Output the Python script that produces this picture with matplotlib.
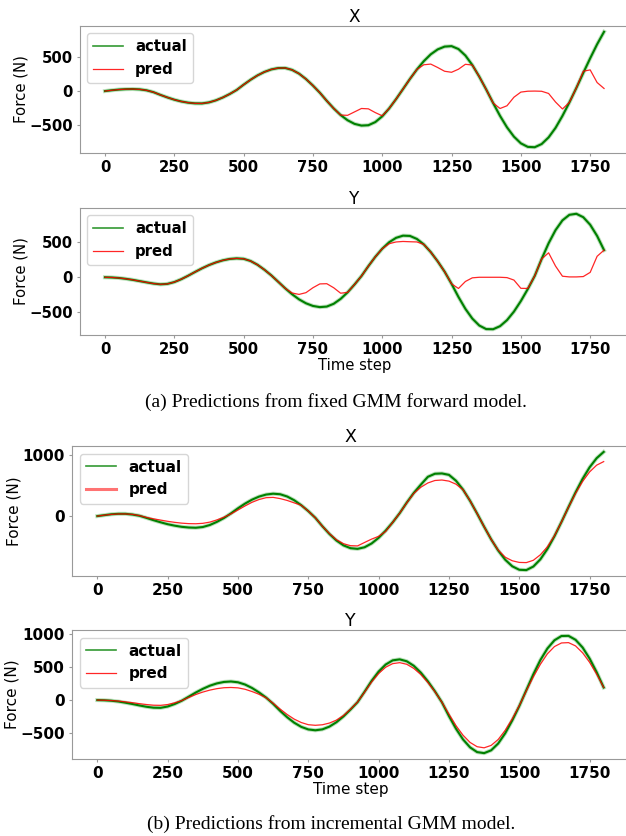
import numpy as np
import matplotlib
matplotlib.use('Agg')
import matplotlib.pyplot as plt

# time axis, one sample every 25 steps
steps = np.arange(0, 1801, 25)

# fixed GMM forward model, X force
fx_actual = [0, 12, 22, 28, 30, 25, 11, -16, -56, -93, -126, -152, -170, -180, -181, -166,
             -136, -94, -43, 16, 93, 165, 229, 280, 317, 337, 338, 310, 255, 176, 81, -24,
             -143, -254, -351, -427, -480, -505, -500, -454, -370, -254, -117, 30, 178, 316,
             438, 538, 610, 651, 658, 615, 520, 381, 211, 23, -175, -364, -531, -667, -765,
             -817, -822, -775, -678, -539, -363, -166, 45, 265, 480, 685, 868]
fx_pred = [0, 12, 22, 28, 30, 25, 11, -16, -56, -93, -126, -152, -170, -180, -181, -166,
           -136, -94, -43, 16, 93, 165, 229, 280, 317, 337, 338, 310, 255, 176, 81, -24,
           -143, -254, -351, -355, -305, -255, -260, -315, -362, -254, -117, 30, 178, 316,
           385, 395, 345, 290, 275, 320, 392, 381, 211, 23, -175, -255, -215, -90, -15,
           -2, 0, -3, -35, -160, -262, -166, 45, 290, 310, 125, 38]

# fixed GMM forward model, Y force
fy_actual = [0, -3, -10, -22, -37, -55, -73, -90, -101, -95, -69, -28, 22, 76, 128, 174,
             212, 242, 262, 270, 264, 233, 179, 108, 27, -65, -158, -243, -316, -372, -410,
             -427, -419, -379, -309, -216, -104, 17, 159, 292, 408, 501, 564, 595, 591, 548,
             470, 360, 228, 80, -94, -282, -452, -591, -690, -741, -743, -699, -613, -491,
             -340, -168, 20, 262, 486, 674, 814, 893, 908, 859, 751, 591, 388]
fy_pred = [0, -3, -10, -22, -37, -55, -73, -90, -101, -95, -69, -28, 22, 76, 128, 174,
           212, 242, 262, 270, 264, 233, 179, 108, 27, -65, -158, -225, -245, -220, -150,
           -95, -92, -150, -228, -216, -104, 17, 159, 292, 408, 480, 505, 512, 508, 505,
           470, 360, 228, 80, -94, -160, -60, -8, 0, 0, 0, 0, -5, -40,
           -158, -160, 20, 262, 350, 160, 15, 5, 5, 10, 70, 300, 388]

# incremental GMM model, X force
ix_actual = [0, 15, 30, 37, 37, 25, 5, -30, -67, -101, -132, -156, -175, -186, -190, -178,
             -145, -94, -32, 44, 127, 203, 268, 318, 351, 365, 356, 319, 258, 177, 81, -28,
             -165, -291, -398, -477, -523, -534, -508, -446, -354, -237, -102, 49, 220, 378,
             512, 640, 690, 695, 672, 576, 432, 249, 42, -173, -379, -561, -711, -818, -875,
             -880, -822, -704, -535, -328, -95, 148, 386, 606, 795, 944, 1046]
ix_pred = [0, 15, 28, 35, 35, 28, 8, -22, -45, -65, -85, -102, -115, -123, -125, -118,
           -98, -62, -18, 35, 100, 165, 225, 270, 300, 305, 285, 255, 215, 177, 81, -28,
           -165, -285, -385, -450, -482, -486, -430, -375, -330, -250, -102, 49, 215, 370,
           470, 540, 580, 588, 570, 520, 430, 249, 42, -173, -379, -555, -670, -728, -755,
           -758, -720, -630, -500, -320, -95, 145, 370, 565, 720, 830, 888]

# incremental GMM model, Y force
iy_actual = [0, -3, -10, -22, -40, -60, -82, -102, -116, -118, -98, -60, -10, 52, 115, 171,
             219, 254, 276, 283, 271, 237, 184, 116, 38, -57, -165, -262, -345, -408, -447,
             -460, -446, -404, -337, -249, -144, -32, 127, 292, 434, 541, 605, 620, 591, 522,
             418, 286, 134, -34, -244, -436, -599, -720, -792, -808, -765, -661, -505, -310,
             -91, 151, 393, 610, 786, 911, 976, 978, 918, 801, 632, 425, 192]
iy_pred = [0, -2, -7, -15, -27, -40, -55, -68, -78, -80, -68, -42, -8, 40, 85, 122,
           152, 174, 188, 192, 186, 165, 130, 88, 35, -48, -138, -220, -290, -342, -375,
           -384, -376, -350, -305, -235, -138, -30, 120, 275, 405, 500, 555, 570, 545, 482,
           390, 268, 128, -34, -215, -390, -535, -645, -710, -727, -690, -600, -460, -285,
           -85, 140, 355, 545, 705, 815, 870, 875, 825, 720, 575, 395, 192]

xticks = [0, 250, 500, 750, 1000, 1250, 1500, 1750]

W, H = 626, 836
fig = plt.figure(figsize=(W / 100, H / 100), dpi=100)


def panel(box, title, actual, pred, yticks, xlabel=False, thick_pred_handle=False, fs=11):
    l, t, r, b = box
    ax = fig.add_axes([l / W, 1 - b / H, (r - l) / W, (b - t) / H])
    ax.plot(steps, actual, color='#40a840', alpha=0.35, lw=2.9)
    ax.plot(steps, actual, color='g', lw=1.5, label='actual')
    ax.plot(steps, pred, color='r', lw=0.9, alpha=0.85, label='pred')
    ax.set_title(title, fontsize=fs + 1.5, pad=2)
    ax.set_xticks(xticks)
    ax.set_yticks(yticks)
    ax.tick_params(length=2.5, pad=2.5, color='0.6', labelsize=fs)
    for lab in ax.get_xticklabels() + ax.get_yticklabels():
        lab.set_fontweight('bold')
    for s in ax.spines.values():
        s.set_color('0.6')
    ax.set_ylabel('Force (N)', fontsize=fs, labelpad=1)
    if xlabel:
        ax.set_xlabel('Time step', fontsize=fs, labelpad=1)
    leg = ax.legend(loc='upper left', prop={'weight': 'bold', 'size': fs})
    leg.get_lines()[0].set_linewidth(1.2)
    leg.get_lines()[0].set_alpha(0.8)
    if thick_pred_handle:
        leg.get_lines()[1].set_linewidth(2.2)
        leg.get_lines()[1].set_alpha(0.55)
    return ax


panel((80, 26, 629, 153), 'X', fx_actual, fx_pred, [-500, 0, 500], fs=10.7)
panel((80, 208, 629, 335), 'Y', fy_actual, fy_pred, [-500, 0, 500], xlabel=True, fs=10.7)
panel((72, 446, 629, 576), 'X', ix_actual, ix_pred, [0, 1000], thick_pred_handle=True)
panel((72, 630, 629, 759), 'Y', iy_actual, iy_pred, [-500, 0, 500, 1000], xlabel=True)

fig.text(336 / W, 1 - 402 / H, '(a) Predictions from fixed GMM forward model.',
         ha='center', va='center', family='Liberation Serif', fontsize=14)
fig.text(331 / W, 1 - 824 / H, '(b) Predictions from incremental GMM model.',
         ha='center', va='center', family='Liberation Serif', fontsize=14)

fig.savefig('out.png', dpi=100)
